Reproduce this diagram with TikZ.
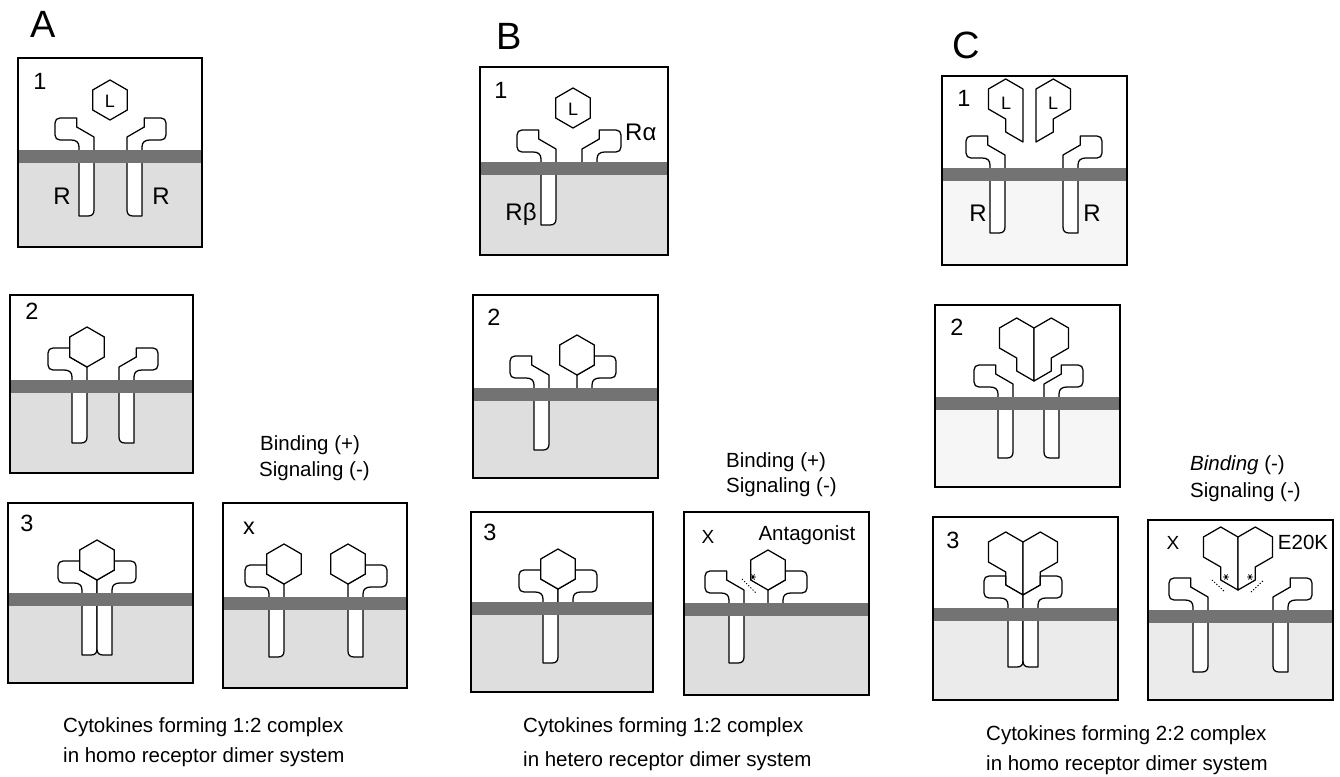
\documentclass[tikz,border=0pt]{standalone}
\usepackage{fontspec}
\setmainfont{Liberation Sans}
\definecolor{cytoA}{gray}{0.87}
\definecolor{cytoC}{gray}{0.965}
\definecolor{cytoCb}{gray}{0.92}
\definecolor{membr}{gray}{0.45}

\tikzset{
  outline/.style={line width=1.25pt, line join=round, fill=white},
  panelbox/.style={line width=1.6pt},
  numlabel/.style={font=\fontsize{23.5}{26}\selectfont, inner sep=0pt},
  txt/.style={font=\fontsize{20.5}{24}\selectfont, inner sep=0pt, anchor=west},
  liglabel/.style={font=\fontsize{18}{20}\selectfont, inner sep=0pt},
  rlabel/.style={font=\fontsize{24}{26}\selectfont, inner sep=0pt},
  paneltitle/.style={font=\fontsize{38}{40}\selectfont, inner sep=0pt},
  contact/.style={line width=1pt, dash pattern=on 1.2pt off 1.8pt},
}

% white panel with a shaded cytoplasm below the membrane top
\newcommand\cellpanel[6]{%
  \fill[white] (#1,#2) rectangle (#3,#4);
  \fill[#6] (#1,#5) rectangle (#3,#4);}
% lipid bilayer band: x0, x1, top
\newcommand\membraneband[3]{\fill[membr] (#1,#3) rectangle (#2,{#3+13});}
\newcommand\panelframe[4]{\draw[panelbox] (#1,#2) rectangle (#3,#4);}

% receptor chain: inner edge x, membrane top y, side (1 = arm to the left, -1 = arm to the right), stalk depth
\newcommand\receptor[4]{%
  \begin{scope}[shift={(#1,#2)}, xscale=#3, yscale=-1]
    \draw[outline] (0,13) -- (0,{-#4+6}) .. controls (0,{-#4+2}) and (-2,-#4) .. (-6,-#4)
      -- (-15,-#4) -- (-15,3) .. controls (-15,8) and (-18,10) .. (-23,10)
      -- (-34,10) .. controls (-37,10) and (-39,12) .. (-39,15)
      -- (-39,27) .. controls (-39,30) and (-37,32) .. (-34,32)
      -- (-17.3,32) -- (-17.3,23) -- cycle;
  \end{scope}}

% hexagonal ligand centred at (x,y)
\newcommand\hexlig[2]{\draw[outline] ({#1},{#2}) +(90:20) -- +(30:20) -- +(-30:20)
  -- +(-90:20) -- +(-150:20) -- +(150:20) -- cycle;}

% one subunit of the dimeric ligand: tip x, tip y, side
\newcommand\monomer[3]{%
  \begin{scope}[shift={(#1,#2)}, xscale=#3, yscale=-1]
    \draw[outline] (0,0) -- (-17.3,10) -- (-17.3,23) -- (-34.6,33) -- (-34.6,53)
      -- (-17.3,63) -- (0,53) -- cycle;
  \end{scope}}

% small asterisk marking the mutated site
\newcommand\starmark[2]{\draw[line width=0.8pt] (#1,#2) +(-3,0) -- +(3,0)
  +(-1.5,-2.6) -- +(1.5,2.6) +(-1.5,2.6) -- +(1.5,-2.6);}

\begin{document}
\begin{tikzpicture}[x=1pt, y=-1pt]
\useasboundingbox (0,0) rectangle (1340,776);

% ---------------- column A ----------------
\node[paneltitle] (tA) at (43,24) {A};

% A1
\cellpanel{18}{58}{202}{247}{150}{cytoA}
\receptor{94}{150}{1}{66}
\receptor{127}{150}{-1}{66}
\membraneband{18}{202}{150}
\hexlig{110}{100}
\node[liglabel] (a1L) at (110,101) {L};
\node[numlabel] (a1n) at (40,81) {1};
\node[rlabel] (a1r1) at (62,196) {R};
\node[rlabel] (a1r2) at (161,196) {R};
\panelframe{18}{58}{202}{247}

% A2
\cellpanel{10}{295}{193}{473}{380}{cytoA}
\receptor{87}{380}{1}{63}
\receptor{119}{380}{-1}{63}
\membraneband{10}{193}{380}
\hexlig{87}{347}
\node[numlabel] (a2n) at (32,311) {2};
\panelframe{10}{295}{193}{473}

% A3
\cellpanel{8}{503}{193}{683}{593}{cytoA}
\receptor{97}{593}{1}{62}
\receptor{97}{593}{-1}{62}
\membraneband{8}{193}{593}
\hexlig{97}{560}
\node[numlabel] (a3n) at (27,523) {3};
\panelframe{8}{503}{193}{683}

% AX
\cellpanel{223}{503}{407}{688}{597}{cytoA}
\receptor{284}{597}{1}{60}
\receptor{348}{597}{-1}{60}
\membraneband{223}{407}{597}
\hexlig{284}{564}
\hexlig{348}{564}
\node[numlabel] (axn) at (249,528) {x};
\panelframe{223}{503}{407}{688}

\node[txt] (aB) at (260,445) {Binding (+)};
\node[txt] (aS) at (259,471) {Signaling (-)};
\node[txt] (aC1) at (63,727) {Cytokines forming 1:2 complex};
\node[txt] (aC2) at (63,757) {in homo receptor dimer system};

% ---------------- column B ----------------
\node[paneltitle] (tB) at (509,36) {B};

% B1
\cellpanel{480}{67}{668}{255}{162}{cytoA}
\receptor{556}{162}{1}{63}
\receptor{582}{162}{-1}{6}
\membraneband{480}{668}{162}
\hexlig{573}{108}
\node[liglabel] (b1L) at (573,109) {L};
\node[numlabel] (b1n) at (501,90) {1};
\node[rlabel] (b1rb) at (521,214) {Rβ};
\node[rlabel, anchor=west] (b1ra) at (625,132) {Rα};
\panelframe{480}{67}{668}{255}

% B2
\cellpanel{473}{295}{658}{478}{388}{cytoA}
\receptor{549}{388}{1}{62}
\receptor{577}{388}{-1}{6}
\membraneband{473}{658}{388}
\hexlig{577}{355}
\node[numlabel] (b2n) at (494,317) {2};
\panelframe{473}{295}{658}{478}

% B3
\cellpanel{471}{512}{653}{692}{602}{cytoA}
\receptor{558}{602}{1}{61}
\receptor{558}{602}{-1}{6}
\membraneband{471}{653}{602}
\hexlig{558}{569}
\node[numlabel] (b3n) at (490,532) {3};
\panelframe{471}{512}{653}{692}

% BX
\cellpanel{684}{512}{869}{695}{603}{cytoA}
\receptor{744}{603}{1}{60}
\receptor{768}{603}{-1}{6}
\membraneband{684}{869}{603}
\hexlig{768}{570}
\starmark{753}{577}
\draw[contact] (742,579) -- (756,593);
\node[numlabel, font=\fontsize{19}{22}\selectfont] (bxn) at (708,537) {X};
\node[txt, anchor=center] (bant) at (807,535) {Antagonist};
\panelframe{684}{512}{869}{695}

\node[txt] (bB) at (726,462) {Binding (+)};
\node[txt] (bS) at (726,487) {Signaling (-)};
\node[txt] (bC1) at (523,727) {Cytokines forming 1:2 complex};
\node[txt] (bC2) at (523,761) {in hetero receptor dimer system};

% ---------------- column C ----------------
\node[paneltitle] (tC) at (966,45) {C};

% C1
\cellpanel{942}{76}{1127}{265}{168}{cytoC}
\receptor{1005}{168}{1}{65}
\receptor{1063}{168}{-1}{65}
\membraneband{942}{1127}{168}
\monomer{1023}{142}{1}
\monomer{1036}{142}{-1}
\node[liglabel] (c1L1) at (1006,103) {L};
\node[liglabel] (c1L2) at (1053,103) {L};
\node[numlabel] (c1n) at (964,98) {1};
\node[rlabel] (c1r1) at (978,213) {R};
\node[rlabel] (c1r2) at (1092,213) {R};
\panelframe{942}{76}{1127}{265}

% C2
\cellpanel{935}{305}{1120}{487}{397}{cytoC}
\receptor{1013}{397}{1}{61}
\receptor{1044}{397}{-1}{61}
\membraneband{935}{1120}{397}
\monomer{1034}{381}{1}
\monomer{1034}{381}{-1}
\node[numlabel] (c2n) at (957,327) {2};
\panelframe{935}{305}{1120}{487}

% C3
\cellpanel{933}{517}{1118}{700}{608}{cytoCb}
\monomer{1023}{595}{1}
\monomer{1023}{595}{-1}
\receptor{1023}{608}{1}{59}
\receptor{1023}{608}{-1}{59}
\membraneband{933}{1118}{608}
\node[numlabel] (c3n) at (953,540) {3};
\panelframe{933}{517}{1118}{700}

% CX
\cellpanel{1148}{520}{1333}{700}{610}{cytoCb}
\receptor{1208}{610}{1}{62}
\receptor{1273}{610}{-1}{62}
\membraneband{1148}{1333}{610}
\monomer{1238}{590}{1}
\monomer{1238}{590}{-1}
\starmark{1226}{577}
\starmark{1250}{577}
\draw[contact] (1212,580) -- (1225,592);
\draw[contact] (1251,592) -- (1264,580);
\node[numlabel, font=\fontsize{19}{22}\selectfont] (cxn) at (1173,543) {X};
\node[txt, anchor=center] (cmut) at (1303,542) {E20K};
\panelframe{1148}{520}{1333}{700}

\node[txt] (cB) at (1190,465) {\textit{Binding} (-)};
\node[txt] (cS) at (1190,492) {Signaling (-)};
\node[txt] (cC1) at (986,735) {Cytokines forming 2:2 complex};
\node[txt] (cC2) at (986,765) {in homo receptor dimer system};
\end{tikzpicture}
\end{document}
